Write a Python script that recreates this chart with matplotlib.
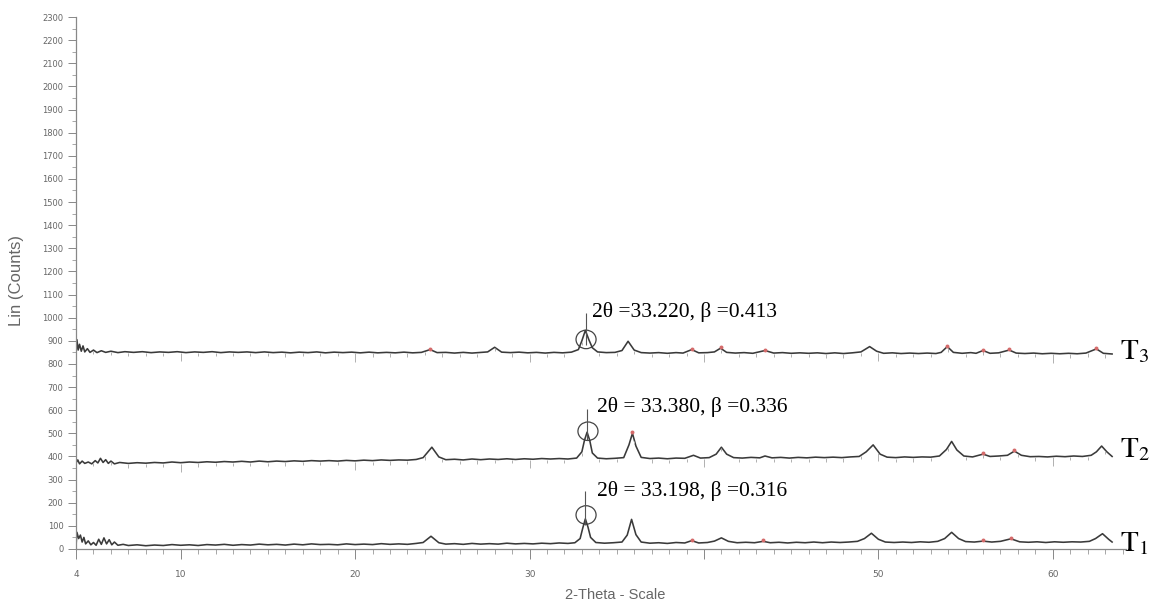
import numpy as np
import matplotlib.pyplot as plt
from matplotlib.patches import Ellipse
from matplotlib.ticker import MultipleLocator, FixedLocator, FixedFormatter

plt.rcParams['mathtext.fontset'] = 'stix'

# XRD patterns: (2-theta, counts)
t1 = [(4.0, 15), (4.05, 72), (4.15, 45), (4.25, 60), (4.35, 30), (4.45, 50), (4.55, 22), (4.7, 35),
      (4.85, 18), (5.0, 28), (5.15, 16), (5.3, 42), (5.45, 20), (5.6, 48), (5.75, 22), (5.9, 40),
      (6.05, 18), (6.2, 30), (6.4, 16), (6.7, 20), (7.0, 15), (7.5, 18), (8.0, 14), (8.5, 17),
      (9.0, 15), (9.5, 19), (10.0, 16), (10.5, 18), (11.0, 15), (11.5, 19), (12.0, 17), (12.5, 20),
      (13.0, 16), (13.5, 19), (14.0, 17), (14.5, 21), (15.0, 18), (15.5, 20), (16.0, 17), (16.5, 21),
      (17.0, 18), (17.5, 22), (18.0, 19), (18.5, 20), (19.0, 18), (19.5, 22), (20.0, 19), (20.5, 21),
      (21.0, 19), (21.5, 23), (22.0, 20), (22.5, 22), (23.0, 20), (23.5, 24), (23.9, 28), (24.35, 55),
      (24.8, 27), (25.2, 21), (25.7, 23), (26.2, 20), (26.7, 24), (27.2, 21), (27.7, 23), (28.2, 21),
      (28.7, 25), (29.2, 22), (29.7, 24), (30.2, 22), (30.7, 25), (31.2, 23), (31.7, 26), (32.2, 24),
      (32.6, 27), (32.9, 45), (33.05, 90), (33.2, 130), (33.35, 95), (33.5, 50), (33.8, 28), (34.3, 25),
      (34.8, 27), (35.3, 30), (35.6, 60), (35.85, 128), (36.1, 62), (36.4, 30), (36.9, 25), (37.4, 27),
      (37.9, 24), (38.4, 28), (38.9, 26), (39.3, 36), (39.7, 26), (40.2, 28), (40.6, 34), (41.0, 48),
      (41.4, 33), (41.9, 27), (42.4, 29), (42.9, 27), (43.4, 33), (43.8, 27), (44.3, 29), (44.8, 26),
      (45.3, 29), (45.8, 27), (46.3, 30), (46.8, 27), (47.3, 30), (47.8, 28), (48.3, 30), (48.8, 33),
      (49.2, 45), (49.6, 68), (50.0, 42), (50.4, 30), (50.9, 28), (51.4, 30), (51.9, 28), (52.4, 31),
      (52.9, 29), (53.4, 33), (53.8, 45), (54.2, 72), (54.6, 45), (55.0, 32), (55.5, 30), (56.0, 34),
      (56.5, 30), (57.0, 33), (57.6, 44), (58.1, 31), (58.6, 29), (59.1, 31), (59.6, 28), (60.1, 31),
      (60.6, 29), (61.1, 31), (61.6, 30), (62.1, 33), (62.45, 45), (62.85, 66), (63.2, 42), (63.4, 30)]

t2 = [(4.0, 372), (4.1, 385), (4.2, 368), (4.35, 380), (4.5, 370), (4.7, 376), (4.9, 368), (5.1, 382),
      (5.25, 372), (5.4, 392), (5.55, 374), (5.7, 386), (5.85, 370), (6.0, 380), (6.2, 368), (6.5, 374),
      (7.0, 370), (7.5, 373), (8.0, 371), (8.5, 374), (9.0, 372), (9.5, 376), (10.0, 373), (10.5, 376),
      (11.0, 374), (11.5, 377), (12.0, 375), (12.5, 378), (13.0, 376), (13.5, 379), (14.0, 376), (14.5, 380),
      (15.0, 377), (15.5, 380), (16.0, 378), (16.5, 381), (17.0, 379), (17.5, 382), (18.0, 380), (18.5, 382),
      (19.0, 380), (19.5, 383), (20.0, 381), (20.5, 384), (21.0, 382), (21.5, 385), (22.0, 383), (22.5, 385),
      (23.0, 384), (23.5, 387), (23.9, 395), (24.4, 440), (24.8, 398), (25.2, 386), (25.7, 388), (26.2, 385),
      (26.7, 389), (27.2, 386), (27.7, 389), (28.2, 387), (28.7, 390), (29.2, 387), (29.7, 390), (30.2, 388),
      (30.7, 391), (31.2, 389), (31.7, 391), (32.2, 389), (32.7, 393), (33.0, 420), (33.15, 470), (33.3, 505),
      (33.45, 470), (33.6, 415), (33.9, 393), (34.4, 390), (34.9, 392), (35.4, 395), (35.7, 450), (35.9, 500),
      (36.1, 445), (36.4, 396), (36.9, 391), (37.4, 393), (37.9, 390), (38.4, 393), (38.9, 392), (39.4, 405),
      (39.8, 393), (40.3, 395), (40.7, 410), (41.0, 440), (41.3, 410), (41.7, 395), (42.2, 393), (42.7, 396),
      (43.2, 394), (43.5, 402), (43.9, 394), (44.4, 396), (44.9, 393), (45.4, 396), (45.9, 394), (46.4, 397),
      (46.9, 395), (47.4, 397), (47.9, 395), (48.4, 398), (48.9, 400), (49.3, 420), (49.7, 450), (50.1, 410),
      (50.5, 397), (51.0, 395), (51.5, 398), (52.0, 396), (52.5, 398), (53.0, 397), (53.5, 402), (53.9, 430),
      (54.2, 465), (54.5, 428), (54.9, 402), (55.4, 398), (56.0, 410), (56.4, 400), (56.9, 402), (57.4, 405),
      (57.8, 423), (58.2, 405), (58.7, 399), (59.2, 400), (59.7, 398), (60.2, 401), (60.7, 399), (61.2, 402),
      (61.7, 400), (62.2, 405), (62.5, 420), (62.8, 445), (63.1, 420), (63.4, 400)]

t3 = [(4.0, 850), (4.05, 905), (4.12, 860), (4.2, 885), (4.3, 855), (4.4, 878), (4.5, 852), (4.65, 866),
      (4.8, 850), (5.0, 860), (5.2, 849), (5.45, 857), (5.7, 850), (6.0, 855), (6.4, 849), (6.8, 853),
      (7.3, 850), (7.8, 853), (8.3, 849), (8.8, 852), (9.3, 850), (9.8, 853), (10.3, 849), (10.8, 852),
      (11.3, 850), (11.8, 853), (12.3, 849), (12.8, 852), (13.3, 850), (13.8, 852), (14.3, 849), (14.8, 852),
      (15.3, 849), (15.8, 851), (16.3, 848), (16.8, 851), (17.3, 849), (17.8, 852), (18.3, 848), (18.8, 851),
      (19.3, 849), (19.8, 851), (20.3, 848), (20.8, 851), (21.3, 848), (21.8, 850), (22.3, 848), (22.8, 851),
      (23.3, 848), (23.8, 850), (24.3, 862), (24.7, 849), (25.2, 850), (25.7, 847), (26.2, 850), (26.7, 847),
      (27.2, 850), (27.6, 852), (28.0, 872), (28.4, 851), (28.9, 849), (29.4, 851), (29.9, 848), (30.4, 850),
      (30.9, 847), (31.4, 850), (31.9, 848), (32.4, 851), (32.8, 862), (33.0, 900), (33.2, 945), (33.4, 905),
      (33.6, 870), (33.9, 852), (34.4, 849), (34.9, 850), (35.3, 858), (35.65, 898), (36.0, 860), (36.4, 849),
      (36.9, 847), (37.4, 849), (37.9, 846), (38.4, 849), (38.8, 847), (39.3, 862), (39.7, 848), (40.2, 849),
      (40.6, 852), (40.95, 868), (41.3, 850), (41.8, 847), (42.3, 849), (42.8, 846), (43.5, 858), (44.0, 847),
      (44.5, 849), (45.0, 846), (45.5, 848), (46.0, 846), (46.5, 848), (47.0, 845), (47.5, 848), (48.0, 845),
      (48.5, 848), (49.0, 852), (49.5, 875), (49.9, 855), (50.3, 846), (50.8, 848), (51.3, 845), (51.8, 847),
      (52.3, 845), (52.8, 847), (53.3, 845), (53.6, 850), (53.95, 875), (54.3, 850), (54.8, 846), (55.3, 849),
      (55.6, 846), (56.0, 858), (56.4, 846), (56.9, 848), (57.5, 860), (57.9, 847), (58.4, 845), (58.9, 847),
      (59.4, 844), (59.9, 846), (60.4, 844), (60.9, 846), (61.4, 844), (61.9, 847), (62.5, 865), (62.9, 846),
      (63.4, 843)]

# small red peak marks on each pattern
marks_t1 = [39.3, 43.4, 56.0, 57.6]
marks_t2 = [35.9, 56.0, 57.8]
marks_t3 = [24.3, 39.3, 40.95, 43.5, 53.95, 56.0, 57.5, 62.5]

# circled main peak, its stem and the label
circle_x = [33.24, 33.35, 33.24]
circle_y = [147, 509, 906]
stem_x = [33.2, 33.3, 33.22]
stem_lo = [105, 470, 880]
stem_hi = [250, 604, 1020]
ann_x = [33.85, 33.85, 33.6]
ann_y = [229, 591, 1001]
ann_text = ['2θ = 33.198, β =0.316', '2θ = 33.380, β =0.336', '2θ =33.220, β =0.413']
names = [r'$\mathrm{T}_1$', r'$\mathrm{T}_2$', r'$\mathrm{T}_3$']
name_y = [-9, 397, 820]

patterns = [np.array(t1), np.array(t2), np.array(t3)]
marks = [marks_t1, marks_t2, marks_t3]

fig = plt.figure(figsize=(11.61, 6.05), dpi=100)
ax = fig.add_axes([0.0655, 0.0926, 0.9044, 0.8793])

for i, p in enumerate(patterns):
    ax.plot(p[:, 0], p[:, 1], color='#3a3a3a', lw=1.15)
    my = np.interp(marks[i], p[:, 0], p[:, 1])
    ax.scatter(marks[i], my + 4, s=8, color='#d46a6a', zorder=3, linewidths=0)
    ax.add_patch(Ellipse((circle_x[i], circle_y[i]), 1.15, 80, fill=False,
                         edgecolor='#444444', lw=0.9))
    ax.vlines(stem_x[i], stem_lo[i], stem_hi[i], color='#555555', lw=0.8)
    ax.text(ann_x[i], ann_y[i], ann_text[i], fontsize=15.5, family='Liberation Serif',
            va='baseline', color='black')
    ax.text(63.85, name_y[i], names[i], fontsize=21, va='baseline', clip_on=False)

# the stacked T2/T3 scans keep their own degree ticks below the baseline
deg = np.arange(5, 64)
for p in patterns[1:]:
    base = np.interp(deg, p[:, 0], p[:, 1])
    ln = np.where(deg % 10 == 0, 40, 18)
    ax.vlines(deg, base - ln, base - 4, color='#b0b0b0', lw=0.7)

ax.set_xlim(4, 64.2)
ax.set_ylim(0, 2300)

ax.spines['top'].set_visible(False)
ax.spines['right'].set_visible(False)
for s in ['left', 'bottom']:
    ax.spines[s].set_color('#888888')
    ax.spines[s].set_linewidth(0.9)

ax.yaxis.set_major_locator(MultipleLocator(100))
ax.yaxis.set_minor_locator(MultipleLocator(50))
xt = [4, 10, 20, 30, 40, 50, 60]
ax.xaxis.set_major_locator(FixedLocator(xt))
ax.xaxis.set_major_formatter(FixedFormatter(['4', '10', '20', '30', '', '50', '60']))
ax.xaxis.set_minor_locator(MultipleLocator(1))

ax.tick_params(axis='y', which='major', length=6, width=0.7, color='#888888',
               labelsize=6, labelcolor='#666666', pad=3)
ax.tick_params(axis='y', which='minor', length=3, width=0.6, color='#999999')
ax.tick_params(axis='x', which='major', length=7, width=0.7, color='#888888',
               labelsize=6.5, labelcolor='#666666', pad=8)
ax.tick_params(axis='x', which='minor', length=3.5, width=0.6, color='#999999')

fig.text(0.0146, 0.537, 'Lin (Counts)', rotation=90, ha='center', va='center',
         fontsize=12, color='#666666', family='Liberation Sans')
fig.text(0.53, 0.0165, '2-Theta - Scale', ha='center', va='center',
         fontsize=10.5, color='#666666', family='Liberation Sans')

fig.savefig('out.png', dpi=100)
